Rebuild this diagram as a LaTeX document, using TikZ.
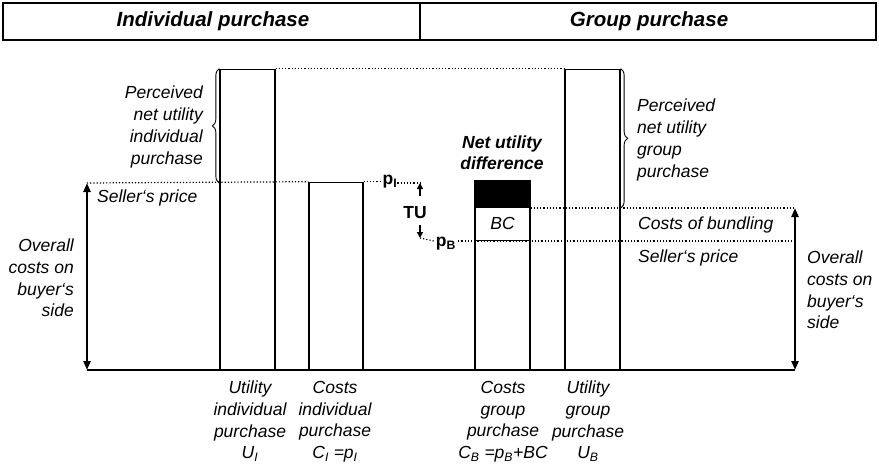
\documentclass[tikz,border=0pt]{standalone}
\usepackage{fontspec}
\setmainfont{Liberation Sans}
\usetikzlibrary{arrows.meta,decorations.pathreplacing}

\tikzset{
  txt/.style={inner sep=0pt, font=\fontsize{17.5}{21.7}\selectfont\itshape},
  headtxt/.style={inner sep=0pt, font=\fontsize{20.5}{24}\selectfont\bfseries\itshape},
  valtxt/.style={inner sep=0pt, font=\fontsize{17.5}{21}\selectfont\bfseries},
  bar/.style={draw, line width=1.3pt, minimum width=55pt, inner sep=0pt, anchor=south},
  guide/.style={dotted, line width=1.2pt},
  costarrow/.style={line width=2.2pt, {Triangle[length=9pt,width=7pt]}-{Triangle[length=9pt,width=7pt]}},
  smallarrow/.style={line width=1.5pt, -{Triangle[length=6pt,width=6pt]}},
  bracedeco/.style={decorate, decoration={brace, amplitude=7pt}, line width=0.9pt}
}

\begin{document}
\begin{tikzpicture}[x=1pt, y=-1pt]
\useasboundingbox (0,0) rectangle (879,469);

% header
\draw[line width=1.4pt] (3,3) rectangle (876,40);
\draw[line width=1.4pt] (420,3) -- (420,40);
\node[headtxt] (hI) at (213,21) {Individual purchase};
\node[headtxt] (hG) at (649,21) {Group purchase};

% bars
\node[bar, minimum height=300pt] (UI) at (247.5,370) {};
\node[bar, minimum width=54pt, minimum height=187pt] (CI) at (336,370) {};
\node[bar, minimum height=129pt] (CB) at (502.5,370) {};
\node[bar, minimum height=33pt] (BC) at (502.5,241) {};
\node[bar, fill=black, minimum height=27pt] (NU) at (502.5,208) {};
\node[bar, minimum height=300pt] (UB) at (592.5,370) {};
\node[txt] at (BC.center) {BC};

% axis and cost arrows
\coordinate (L0) at (87,370);
\coordinate (L1) at (87,183);
\coordinate (R0) at (795,370);
\coordinate (R1) at (795,208);
\coordinate (R2) at (795,241);
\draw[line width=2pt] (L0) -- (R0);
\draw[costarrow] (L1) -- (L0);
\draw[costarrow] (R1) -- (R0);

% price labels and TU arrows
\node[valtxt] (pI) at (390,182) {p\textsubscript{I}};
\node[valtxt] (pB) at (446,244) {p\textsubscript{B}};
\node[valtxt] (TU) at (415,213) {TU};
\coordinate (tuA) at (420,196);
\coordinate (tuB) at (420,183);
\coordinate (tuC) at (420,225);
\coordinate (tuD) at (420,238);
\draw[smallarrow] (tuA) -- (tuB);
\draw[smallarrow] (tuC) -- (tuD);

% dotted guide lines
\draw[guide] (UI.north east) -- (UB.north west);
\draw[guide] (L1) -- (CI.north west);
\draw[guide] (CI.north east) -- (pI.west |- CI.north east);
\draw[guide] (pI.east |- tuB) -- (tuB);
\draw[guide] (tuD) -- ([xshift=-2pt]pB.west |- R2);
\draw[guide] ([xshift=2pt]pB.east |- R2) -- (R2);
\draw[guide] (NU.south east) -- (R1);

% braces
\draw[bracedeco] (UI.south west |- L1) -- (UI.north west);
\draw[bracedeco] (UB.north east) -- (UB.east |- R1);

% side texts
\node[txt, anchor=east, align=right] (pnI) at (203,127) {Perceived\\net utility\\individual\\purchase};
\node[txt, anchor=west, align=left] (pnG) at (637,140) {Perceived\\net utility\\group\\purchase};
\node[txt, anchor=west] (spL) at (97,198) {Seller‘s price};
\node[txt, anchor=west] (cb) at (638,225) {Costs of bundling};
\node[txt, anchor=west] (spR) at (638,258) {Seller‘s price};
\node[txt, anchor=east, align=right] (ocL) at (74,278) {Overall\\costs on\\buyer‘s\\side};
\node[txt, anchor=west, align=left] (ocR) at (807,290) {Overall\\costs on\\buyer‘s\\side};
\node[txt, font=\fontsize{17.5}{21}\selectfont\bfseries\itshape, align=center] (nud) at (502,153) {Net utility\\difference};

% bar captions
\node[txt, anchor=north, align=center] (cUI) at (250,381) {Utility\\individual\\purchase\\U\textsubscript{I}};
\node[txt, anchor=north, align=center] (cCI) at (335,381) {Costs\\individual\\purchase\\C\textsubscript{I} =p\textsubscript{I}};
\node[txt, anchor=north, align=center] (cCB) at (503,381) {Costs\\group\\purchase\\C\textsubscript{B} =p\textsubscript{B}+BC};
\node[txt, anchor=north, align=center] (cUB) at (588,381) {Utility\\group\\purchase\\U\textsubscript{B}};
\end{tikzpicture}
\end{document}
